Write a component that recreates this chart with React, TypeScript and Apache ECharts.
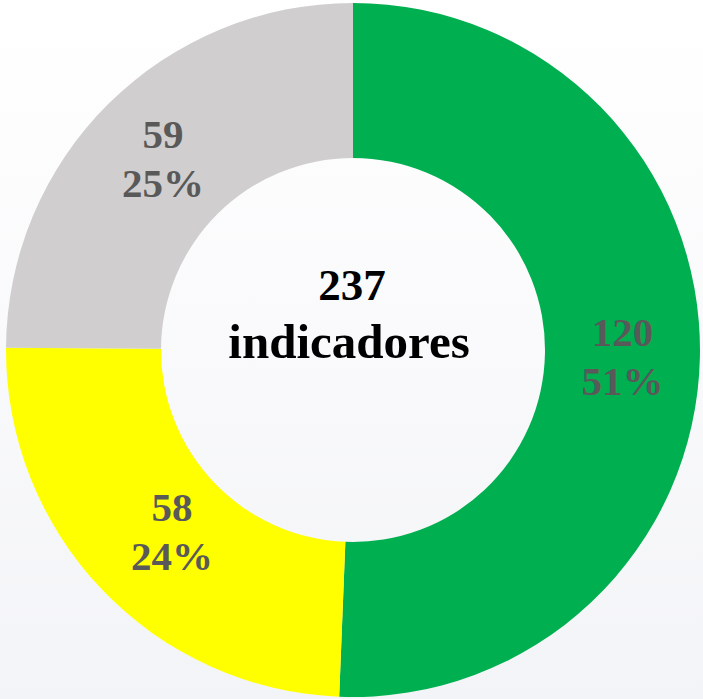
import React, { useEffect, useRef } from "react";
import * as echarts from "echarts";

const categories = ["Verde", "Amarillo", "Gris"];
const values = [120, 58, 59];
const totalLabel = "237";
const centerLabel = "indicadores";

// styling
const colors = ["#00B050", "#FFFF00", "#D0CECE"];
const labelOffsets = [
  [-3, 1],
  [16, -7],
  [2, 2],
];
const SERIF = "Liberation Serif";

export default function App() {
  const ref = useRef<HTMLDivElement>(null);
  useEffect(() => {
    if (!ref.current) return;
    const chart = echarts.init(ref.current, null, { renderer: "svg" });
    const total = values.reduce((a, b) => a + b, 0);
    chart.setOption({
      animation: false,
      backgroundColor: {
        type: "linear",
        x: 0,
        y: 0,
        x2: 0,
        y2: 1,
        colorStops: [
          { offset: 0, color: "#ffffff" },
          { offset: 1, color: "#f3f4f7" },
        ],
      },
      graphic: [
        {
          type: "text",
          x: 352,
          y: 285,
          style: {
            text: totalLabel,
            textAlign: "center",
            textVerticalAlign: "middle",
            fontFamily: SERIF,
            fontWeight: "bold",
            fontSize: 45,
            fill: "#000000",
          },
        },
        {
          type: "text",
          x: 349,
          y: 341,
          style: {
            text: centerLabel,
            textAlign: "center",
            textVerticalAlign: "middle",
            fontFamily: SERIF,
            fontWeight: "bold",
            fontSize: 49,
            fill: "#000000",
          },
        },
      ],
      series: [
        {
          type: "pie",
          center: [353, 350],
          radius: [192, 347],
          startAngle: 90,
          clockwise: true,
          avoidLabelOverlap: false,
          itemStyle: { borderWidth: 0 },
          label: {
            show: true,
            position: "inside",
            formatter: (p: any) =>
              `${p.value}\n${Math.round((p.value / total) * 100)}%`,
            color: "#595959",
            fontFamily: SERIF,
            fontWeight: "bold",
            fontSize: 41,
            lineHeight: 49,
          },
          labelLine: { show: false },
          emphasis: { disabled: true },
          data: categories.map((name, i) => ({
            name,
            value: values[i],
            itemStyle: { color: colors[i] },
            label: { offset: labelOffsets[i] },
          })),
        },
      ],
    });
    return () => chart.dispose();
  }, []);
  return (
    <div
      ref={ref}
      style={{ position: "fixed", left: 0, top: 0, width: 703, height: 699 }}
    />
  );
}
